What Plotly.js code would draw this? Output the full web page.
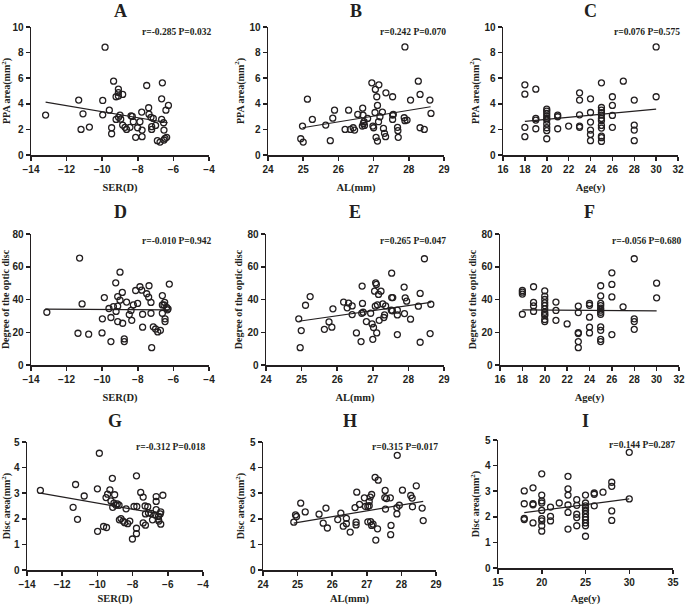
<!DOCTYPE html>
<html><head><meta charset="utf-8">
<script src="https://cdn.plot.ly/plotly-3.0.1.min.js"></script>
<style>body { margin: 0; background: #fff; } #chart { width: 685px; height: 605px; }</style>
</head><body>
<div id="chart"></div>
<script>
// A: SER vs PPA area
const serA = [-13.18,-11.32,-11.19,-11.08,-10.72,-9.84,-9.97,-9.97,-9.6,-9.47,-9.47,-9.36,-9.22,-9.09,-9.09,-9.09,-9.22,-9.08,-9.0,-8.96,-8.85,-8.85,-8.72,-8.63,-8.44,-8.38,-8.31,-8.25,-8.12,-8.01,-7.88,-7.78,-7.76,-7.76,-7.5,-7.39,-7.37,-7.26,-7.22,-7.22,-7.13,-7.0,-6.9,-6.75,-6.62,-6.66,-6.66,-6.55,-6.53,-6.53,-6.47,-6.42,-6.38,-6.28];
const ppaA = [3.12,4.29,2.0,3.22,2.18,8.42,4.26,3.14,3.5,2.13,1.66,5.77,4.55,5.14,4.6,4.88,2.78,2.94,3.12,2.8,4.73,2.34,2.16,2.0,2.16,3.06,3.01,2.6,1.38,2.13,2.6,3.35,1.95,1.43,5.43,3.69,3.19,2.94,2.21,2.0,2.86,2.31,1.12,1.01,5.64,4.39,2.78,2.52,1.95,1.17,1.3,3.5,1.38,3.87];

// B: AL vs PPA area
const alB = [24.93,25.0,24.98,25.12,25.26,25.64,25.77,25.84,25.89,26.19,26.29,26.34,26.42,26.46,26.55,26.68,26.69,26.7,26.71,26.73,26.74,26.83,26.95,26.98,27.0,27.04,27.05,27.07,27.09,27.11,27.11,27.14,27.15,27.18,27.25,27.28,27.31,27.34,27.35,27.54,27.54,27.54,27.56,27.68,27.69,27.7,27.89,27.87,27.89,27.95,28.05,28.27,28.32,28.32,28.44,28.6,28.63];
const ppaB = [1.27,1.01,2.26,4.36,2.78,2.34,1.12,2.88,3.5,2.0,3.5,2.0,2.13,1.95,3.17,2.26,3.66,3.12,2.47,2.6,2.31,2.86,5.64,2.26,2.13,3.32,5.12,1.38,4.55,3.87,1.09,2.6,5.48,2.99,3.35,2.08,1.69,1.43,4.86,4.55,3.12,2.78,3.17,2.16,1.9,1.38,8.44,2.91,2.68,2.73,4.29,5.77,4.73,2.13,2.0,4.29,3.25];

// C: Age vs PPA area
const ageC = [18,18,18,18, 19,19,19,19, 20,20,20,20,20,20,20,20,20,20, 21,21,21, 22, 23,23,23,23,23, 24,24,24,24,24,24, 25,25,25,25,25,25,25,25,25,25,25,25, 26,26,26,26, 27, 28,28,28,28, 30,30];
const ppaC = [5.48,4.75,2.16,1.43, 5.14,2.86,2.73,2.05, 3.58,3.43,3.25,3.04,2.86,2.73,2.42,2.13,1.9,1.27, 3.12,2.99,2.05, 2.26, 4.86,4.29,3.14,2.26,2.16, 4.39,3.32,2.57,1.95,1.61,1.12, 5.64,3.71,3.5,3.3,3.12,2.86,2.68,2.31,2.1,1.48,1.35,1.06, 4.55,3.87,3.09,2.16, 5.77, 4.29,2.34,1.95,1.12, 8.44,4.55];

// D: SER vs degree of the optic disc
const serD = [-13.11,-11.36,-11.27,-11.13,-10.76,-10.01,-9.99,-9.88,-9.62,-9.51,-9.51,-9.37,-9.24,-9.22,-9.13,-9.13,-9.13,-9.0,-9.0,-8.87,-8.85,-8.76,-8.76,-8.63,-8.48,-8.38,-8.34,-8.25,-8.12,-8.01,-7.88,-7.78,-7.73,-7.73,-7.5,-7.39,-7.37,-7.26,-7.26,-7.22,-7.13,-7.0,-6.88,-6.73,-6.62,-6.62,-6.62,-6.53,-6.49,-6.47,-6.47,-6.38,-6.34,-6.3,-6.23];
const degD = [32.2,19.4,65.3,37.3,18.8,19.6,28.2,41.2,34.5,29.0,14.3,35.7,50.2,32.7,35.9,41.8,26.5,56.7,39.6,44.3,25.5,15.9,14.3,38.4,30.8,33.3,27.3,36.7,45.5,37.6,47.8,45.7,31.0,23.1,43.5,41.4,48.4,38.2,31.6,10.6,23.3,22.0,20.2,21.2,42.4,36.7,31.6,36.7,38.2,28.2,26.5,35.1,33.7,34.3,49.4];

// E: AL vs degree of the optic disc
const alE = [24.92,24.96,24.99,25.11,25.24,25.64,25.77,25.85,25.88,26.18,26.28,26.32,26.42,26.42,26.54,26.67,26.69,26.7,26.71,26.73,26.82,26.94,26.98,27.0,27.02,27.05,27.07,27.08,27.1,27.11,27.13,27.16,27.18,27.23,27.28,27.31,27.33,27.36,27.53,27.52,27.53,27.56,27.55,27.69,27.69,27.69,27.88,27.89,27.91,27.95,28.06,28.28,28.33,28.33,28.45,28.63,28.61];
const degE = [28.2,10.6,21.0,36.5,41.8,21.8,26.3,23.1,34.3,38.4,34.9,37.8,36.1,30.8,19.6,14.3,31.6,48.2,37.6,32.2,26.5,31.6,25.1,15.7,22.9,45.1,35.9,50.2,49.2,19.6,36.7,43.1,27.3,45.1,37.3,29.0,30.6,36.1,56.1,33.5,41.2,41.2,33.1,33.5,30.6,18.6,47.6,31.4,41.0,39.0,28.0,35.9,43.7,13.9,64.9,37.1,19.2];

// F: Age vs degree of the optic disc
const ageF = [18,18,18,18, 19,19,19,19, 20,20,20,20,20,20,20,20,20,20,20, 21,21,21, 22, 23,23,23,23,23,23, 24,24,24,24,24, 25,25,25,25,25,25,25,25,25,25,25,25, 26,26,26,26, 27, 28,28,28,28, 30,30];
const degF = [45.5,44.5,43.3,31.0, 47.8,38.2,36.1,32.7, 45.3,42.0,40.0,38.0,36.3,34.3,32.2,31.0,30.2,27.8,26.5, 38.4,33.3,27.3, 25.1, 35.9,32.0,19.8,19.2,14.3,10.6, 37.6,36.5,29.2,23.1,19.6, 48.4,42.2,37.6,36.3,34.7,33.5,32.2,31.0,23.3,21.2,15.7,14.3, 56.3,49.2,41.6,18.6, 35.5, 64.9,28.2,26.5,21.8, 50.0,41.0];

// G: SER vs disc area
const serG = [-13.24,-11.38,-11.24,-11.13,-10.75,-10.0,-9.99,-9.89,-9.65,-9.51,-9.48,-9.42,-9.29,-9.23,-9.15,-9.13,-9.06,-9.02,-8.94,-8.87,-8.77,-8.75,-8.66,-8.54,-8.45,-8.37,-8.28,-8.16,-8.01,-7.92,-7.76,-7.78,-7.78,-7.78,-7.54,-7.4,-7.4,-7.29,-7.27,-7.27,-7.14,-7.1,-6.95,-6.87,-6.72,-6.66,-6.66,-6.66,-6.53,-6.53,-6.51,-6.43,-6.4,-6.4,-6.28];
const discG = [3.11,2.45,3.34,1.98,2.89,3.17,1.51,4.56,1.7,2.83,1.66,2.96,3.13,2.7,3.58,2.45,2.61,2.94,2.53,2.58,2.53,1.96,2.01,1.91,1.85,2.39,1.81,1.91,1.21,2.48,2.48,3.68,1.63,1.42,3.03,2.85,1.84,2.5,1.75,2.19,2.47,2.23,2.21,1.96,2.15,2.87,2.68,2.36,2.09,1.98,1.91,2.19,2.27,1.79,2.92];

// H: AL vs disc area
const alH = [24.89,24.94,24.97,25.09,25.22,25.62,25.74,25.82,25.86,26.16,26.25,26.32,26.41,26.41,26.52,26.66,26.69,26.69,26.71,26.79,26.93,26.96,27.03,27.03,27.07,27.07,27.1,27.11,27.14,27.14,27.18,27.24,27.26,27.31,27.33,27.53,27.52,27.54,27.57,27.68,27.69,27.7,27.88,27.87,27.87,27.94,28.03,28.27,28.31,28.32,28.43,28.6,28.63];
const discH = [1.87,2.15,2.09,2.61,2.27,2.18,1.83,2.42,1.64,1.97,2.22,1.71,2.02,1.81,1.48,2.44,1.87,1.76,3.04,2.56,2.82,2.48,2.48,1.88,2.51,2.68,2.85,1.89,2.95,1.74,1.79,3.62,1.17,1.61,3.51,3.11,2.83,2.38,2.79,2.82,1.38,1.74,4.48,2.19,2.44,2.53,3.12,2.91,2.81,2.47,3.29,2.42,1.93];

// I: Age vs disc area
const ageI = [18,18,18,18, 19,19,19,19, 20,20,20,20,20,20,20,20,20, 21,21,21, 22, 23,23,23,23,23,23, 24,24,24,24,24, 25,25,25,25,25,25,25,25,25,25,25, 26,26,26, 27, 28,28,28,28, 30,30];
const discI = [3.01,2.51,1.94,1.89, 3.13,2.51,2.47,1.76, 3.68,2.85,2.62,2.54,2.25,1.93,1.84,1.65,1.44, 2.38,2.02,1.84, 2.54, 3.58,3.09,2.85,2.46,2.17,1.52, 2.67,2.45,2.1,1.97,1.65, 2.85,2.54,2.43,2.36,2.25,2.12,1.99,1.89,1.76,1.65,1.24, 2.93,2.88,2.43, 2.96, 3.35,3.19,2.23,1.86, 4.52,2.7];

// regression line ends
const fitX = [[-13.18,-6.32],[24.98,28.62],[18,30],[-13.2,-6.28],[24.92,28.63],[18,30],[-13.24,-6.3],[24.89,28.63],[18,30]];
const fitY = [[4.13,2.52],[2.13,3.77],[2.62,3.58],[34.1,33.7],[26.7,38.2],[33.7,33.1],[3.0,2.17],[1.83,2.68],[2.16,2.7]];

const letters = ['A','B','C','D','E','F','G','H','I'];
const stats = ['r=-0.285 P=0.032','r=0.242 P=0.070','r=0.076 P=0.575',
               'r=-0.010 P=0.942','r=0.265 P=0.047','r=-0.056 P=0.680',
               'r=-0.312 P=0.018','r=0.315 P=0.017','r=0.144 P=0.287'];
const xTitles = ['SER(D)','AL(mm)','Age(y)'];
const yTitles = ['PPA area(mm<sup>2</sup>)','Degree of the optic disc','Disc area(mm<sup>2</sup>)'];

const xs = [serA, alB, ageC, serD, alE, ageF, serG, alH, ageI];
const ys = [ppaA, ppaB, ppaC, degD, degE, degF, discG, discH, discI];

// pixel boxes [left, right, top, bottom]
const boxes = [
  [31,209,27,155],[268,444,27,155],[503,678,27,155],
  [31,209,234,365],[266,444,234,365],[500,679,234,365],
  [27,203,442,570],[263,436,442,570],[498,673,440,568]
];
const xRanges = [[-14,-4],[24,29],[16,32],[-14,-4],[24,29],[16,32],[-14,-4],[24,29],[15,35]];
const xDticks = [2,1,2,2,1,2,2,1,5];
const yRanges = [[0,10],[0,80],[0,5]];
const yDticks = [2,20,1];
// letter centre heights (px from top)
const letterY = [0, 201, 410];

const W = 685, H = 605, ink = '#231f20';
const sans = {family: 'Liberation Sans, Arial, sans-serif', size: 10, color: ink, weight: 'bold'};
const serif = {family: 'Liberation Serif, Times New Roman, serif', color: ink, weight: 'bold'};

const data = [];
const layout = {
  width: W, height: H, margin: {l: 0, r: 0, t: 0, b: 0},
  paper_bgcolor: '#fff', plot_bgcolor: '#fff', showlegend: false,
  annotations: []
};

for(let i = 0; i < 9; i++) {
  const n = i === 0 ? '' : String(i + 1);
  const row = Math.floor(i / 3);
  const b = boxes[i];
  layout['xaxis' + n] = {
    domain: [b[0] / W, b[1] / W], anchor: 'y' + n,
    range: xRanges[i], dtick: xDticks[i], tick0: 0,
    showline: true, linecolor: ink, linewidth: 1.5, mirror: false,
    ticks: 'outside', ticklen: 4, tickwidth: 1.5, tickcolor: ink,
    showgrid: false, zeroline: false, tickfont: sans,
    title: {text: xTitles[i % 3], font: Object.assign({size: 10.5}, serif), standoff: 10}
  };
  layout['yaxis' + n] = {
    domain: [(H - b[3]) / H, (H - b[2]) / H], anchor: 'x' + n,
    range: yRanges[row], dtick: yDticks[row], tick0: 0,
    showline: true, linecolor: ink, linewidth: 1.5, mirror: false,
    ticks: 'outside', ticklen: 4, tickwidth: 1.5, tickcolor: ink,
    showgrid: false, zeroline: false, tickfont: sans,
    title: {text: yTitles[row], font: Object.assign({size: 10}, serif), standoff: 3}
  };
  data.push({
    type: 'scatter', mode: 'markers', x: xs[i], y: ys[i], xaxis: 'x' + n, yaxis: 'y' + n,
    marker: {symbol: 'circle-open', size: 6, color: ink, line: {width: 1.3}},
    cliponaxis: false
  });
  data.push({
    type: 'scatter', mode: 'lines', x: fitX[i], y: fitY[i], xaxis: 'x' + n, yaxis: 'y' + n,
    line: {color: ink, width: 1.2}
  });
  layout.annotations.push({
    xref: 'paper', yref: 'paper', x: (b[0] + b[1]) / 2 / W, y: (H - letterY[row]) / H,
    xanchor: 'center', yanchor: 'top', showarrow: false, borderpad: 0,
    text: letters[i], font: Object.assign({size: 18}, serif)
  });
  layout.annotations.push({
    xref: 'paper', yref: 'paper', x: (b[1] + 4) / W, y: (H - (b[2] + (row === 1 ? 7 : 5))) / H,
    xanchor: 'right', yanchor: 'middle', showarrow: false,
    text: stats[i], font: Object.assign({size: 9.5}, serif)
  });
}

Plotly.newPlot('chart', data, layout, {displayModeBar: false, staticPlot: true});
</script>
</body></html>
